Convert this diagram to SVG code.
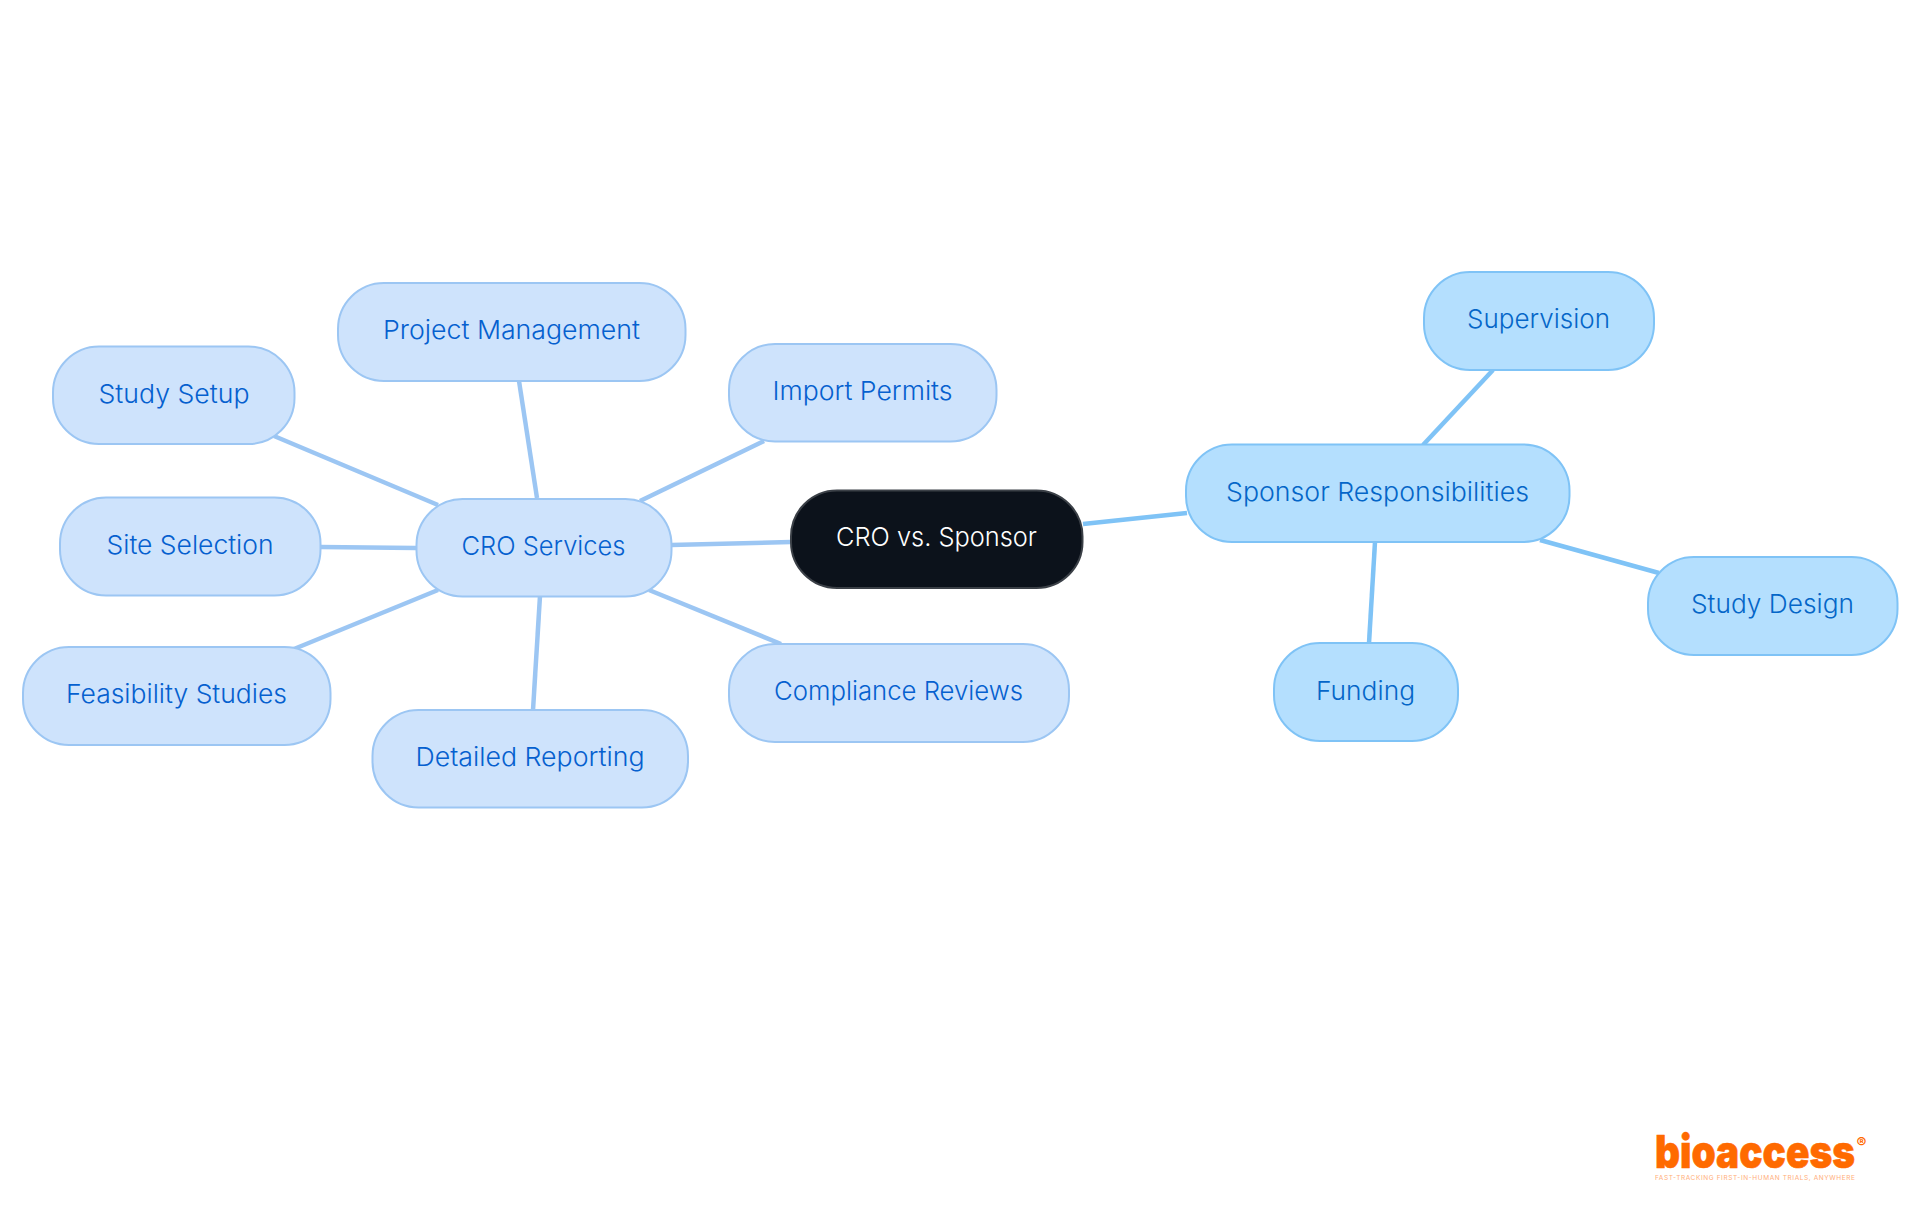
<svg xmlns="http://www.w3.org/2000/svg" width="1920" height="1215" viewBox="0 0 1920 1215">
<style>
text{font-family:"Inter","Noto Sans",sans-serif;font-size:26px;font-weight:300;text-anchor:middle}
.c rect{fill:#cee3fc;stroke:#9cc6f3;stroke-width:2}
.c text{fill:#0560cf}
.s rect{fill:#b4dffe;stroke:#7fc3f6;stroke-width:2}
.s text{fill:#0466c8}
.r rect{fill:#0c121b;stroke:#3b4047;stroke-width:2}
.r text{fill:#fff}
#edges line{stroke-width:4.5;stroke-linecap:butt}
.ec{stroke:#9cc6f3}
.es{stroke:#7fc3f6}
#logo text{fill:#ff6a00}
</style>
<rect width="1920" height="1215" fill="#fff"/>
<g id="edges">
<line class="ec" x1="671" y1="545" x2="791" y2="542"/>
<line class="es" x1="1083" y1="524" x2="1187" y2="513"/>
<line class="ec" x1="537" y1="498" x2="519" y2="381"/>
<line class="ec" x1="438" y1="505" x2="274" y2="436"/>
<line class="ec" x1="416" y1="548" x2="320" y2="547"/>
<line class="ec" x1="438" y1="590" x2="294" y2="649"/>
<line class="ec" x1="540" y1="596" x2="533" y2="710"/>
<line class="ec" x1="649" y1="590" x2="781" y2="644"/>
<line class="ec" x1="640" y1="501" x2="764" y2="441"/>
<line class="es" x1="1423" y1="445" x2="1493" y2="370"/>
<line class="es" x1="1540" y1="540" x2="1659" y2="573"/>
<line class="es" x1="1375" y1="542" x2="1369" y2="643"/>
</g>
<g id="root" class="r"><rect x="791" y="490.500" width="291.500" height="97.500" rx="46"/><text x="936.500" y="546" textLength="201" lengthAdjust="spacingAndGlyphs">CRO vs. Sponsor</text></g>
<g id="cro" class="c"><rect x="416.500" y="499" width="255" height="97.500" rx="46"/><text x="543.500" y="555" textLength="164" lengthAdjust="spacingAndGlyphs">CRO Services</text></g>
<g id="sponsor" class="s"><rect x="1186" y="444.500" width="383.500" height="97.500" rx="46"/><text x="1377.500" y="501" textLength="303" lengthAdjust="spacingAndGlyphs">Sponsor Responsibilities</text></g>
<g id="project" class="c"><rect x="338" y="283" width="347.500" height="98" rx="46"/><text x="511.500" y="339" textLength="257" lengthAdjust="spacingAndGlyphs">Project Management</text></g>
<g id="setup" class="c"><rect x="53" y="346.500" width="241.500" height="97.500" rx="46"/><text x="174" y="403" textLength="151" lengthAdjust="spacingAndGlyphs">Study Setup</text></g>
<g id="site" class="c"><rect x="60" y="497.500" width="260.500" height="98" rx="46"/><text x="190" y="554" textLength="167" lengthAdjust="spacingAndGlyphs">Site Selection</text></g>
<g id="feasibility" class="c"><rect x="23" y="647" width="307.500" height="98" rx="46"/><text x="176.500" y="703" textLength="221" lengthAdjust="spacingAndGlyphs">Feasibility Studies</text></g>
<g id="detailed" class="c"><rect x="372.500" y="710" width="315.500" height="97.500" rx="46"/><text x="530" y="766" textLength="229" lengthAdjust="spacingAndGlyphs">Detailed Reporting</text></g>
<g id="compliance" class="c"><rect x="729" y="644" width="340" height="98" rx="46"/><text x="898.500" y="700" textLength="249" lengthAdjust="spacingAndGlyphs">Compliance Reviews</text></g>
<g id="import" class="c"><rect x="729" y="344" width="267.500" height="97.500" rx="46"/><text x="862.500" y="400" textLength="180" lengthAdjust="spacingAndGlyphs">Import Permits</text></g>
<g id="supervision" class="s"><rect x="1424" y="272" width="230" height="98" rx="46"/><text x="1538.500" y="328" textLength="143" lengthAdjust="spacingAndGlyphs">Supervision</text></g>
<g id="design" class="s"><rect x="1648" y="557" width="249.500" height="98" rx="46"/><text x="1772.500" y="613" textLength="163" lengthAdjust="spacingAndGlyphs">Study Design</text></g>
<g id="funding" class="s"><rect x="1274" y="643" width="184" height="98" rx="46"/><text x="1365.500" y="700" textLength="99" lengthAdjust="spacingAndGlyphs">Funding</text></g>
<g id="logo">
<text x="1755" y="1168" style="font-size:46px;font-weight:900;stroke:#ff6a00;stroke-width:.6" textLength="200" lengthAdjust="spacingAndGlyphs">bioaccess</text>
<text x="1861.500" y="1147.500" style="font-size:15px;font-weight:700">®</text>
<text x="1755" y="1180" style="font-size:6.500px;font-weight:400;opacity:.55" textLength="200" lengthAdjust="spacing">FAST-TRACKING FIRST-IN-HUMAN TRIALS, ANYWHERE</text>
</g>
</svg>
